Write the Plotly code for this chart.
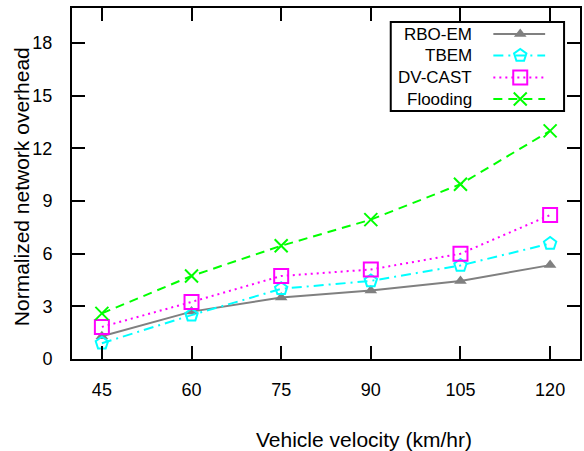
import plotly.graph_objects as go

velocity = [45, 60, 75, 90, 105, 120]
rbo_em = [1.3, 2.7, 3.5, 3.9, 4.45, 5.35]
tbem = [0.9, 2.5, 4.0, 4.45, 5.33, 6.58]
dv_cast = [1.83, 3.25, 4.73, 5.1, 6.0, 8.2]
flooding = [2.6, 4.73, 6.45, 7.94, 9.96, 13.0]

x_ticks = [45, 60, 75, 90, 105, 120]
y_ticks = [0, 3, 6, 9, 12, 15, 18]

series = [
    ("RBO-EM", rbo_em, dict(color="#808080", width=2, dash="solid"),
     dict(symbol="triangle-up", size=11, color="#808080")),
    ("TBEM", tbem, dict(color="#00ffff", width=2, dash="10px,5px,2px,5px"),
     dict(symbol="pentagon-open", size=13, color="#00ffff", line=dict(width=2, color="#00ffff"))),
    ("DV-CAST", dv_cast, dict(color="#ff00ff", width=2, dash="2px,4px"),
     dict(symbol="square-open", size=14, color="#ff00ff", line=dict(width=2, color="#ff00ff"))),
    ("Flooding", flooding, dict(color="#00ff00", width=2, dash="9px,6px"),
     dict(symbol="x-thin-open", size=13, color="#00ff00", line=dict(width=2, color="#00ff00"))),
]

FONT = "Liberation Sans, Arial, sans-serif"
fig = go.Figure()
for name, vals, ln, mk in series:
    fig.add_trace(go.Scatter(x=velocity, y=vals, mode="lines+markers", name=name,
                             line=ln, marker=mk, showlegend=False))

# custom legend (text right-aligned, sample on the right) on overlaid unit axes
W, H, L, B = 510, 351, 72, 359
def px(x):
    return (x - L) / W
def py(y):
    return (B - y) / H

rows = [34, 55.5, 77.5, 99]
for (name, vals, ln, mk), ry in zip(series, rows):
    fig.add_trace(go.Scatter(x=[px(495), px(547)], y=[py(ry), py(ry)], mode="lines",
                             line=ln, xaxis="x2", yaxis="y2", showlegend=False, hoverinfo="skip"))
    fig.add_trace(go.Scatter(x=[px(522)], y=[py(ry)], mode="markers",
                             marker=mk, xaxis="x2", yaxis="y2", showlegend=False, hoverinfo="skip"))
    fig.add_annotation(x=px(476), y=py(ry), xref="paper", yref="paper", text=name,
                       showarrow=False, xanchor="right", yanchor="middle",
                       font=dict(family=FONT, size=17, color="black"))

fig.add_shape(type="rect", xref="paper", yref="paper", x0=px(392), x1=px(566),
              y0=py(111), y1=py(22), line=dict(color="black", width=2), fillcolor="white",
              layer="below")

fig.add_annotation(x=px(365), y=py(439), xref="paper", yref="paper",
                   text="Vehicle velocity (km/hr)", showarrow=False,
                   xanchor="center", yanchor="middle",
                   font=dict(family=FONT, size=21, color="black"))
fig.add_annotation(x=px(21), y=py(187), xref="paper", yref="paper",
                   text="Normalized network overhead", showarrow=False, textangle=-90,
                   xanchor="center", yanchor="middle",
                   font=dict(family=FONT, size=21, color="black"))

axis_common = dict(showgrid=False, zeroline=False, showline=True, linecolor="black",
                   linewidth=2, mirror="ticks", ticks="inside", ticklen=13, tickwidth=2,
                   tickcolor="black", tickfont=dict(family=FONT, size=18, color="black"))

fig.update_layout(
    width=584, height=451,
    margin=dict(l=72, r=2, t=8, b=92),
    paper_bgcolor="white", plot_bgcolor="white",
    xaxis=dict(range=[40, 125], tickvals=x_ticks, ticklabelstandoff=13, **axis_common),
    yaxis=dict(range=[0, 20], tickvals=y_ticks, ticklabelstandoff=14, **axis_common),
    xaxis2=dict(range=[0, 1], overlaying="x", visible=False, fixedrange=True),
    yaxis2=dict(range=[0, 1], overlaying="y", visible=False, fixedrange=True),
)

fig.write_html("out.html")
